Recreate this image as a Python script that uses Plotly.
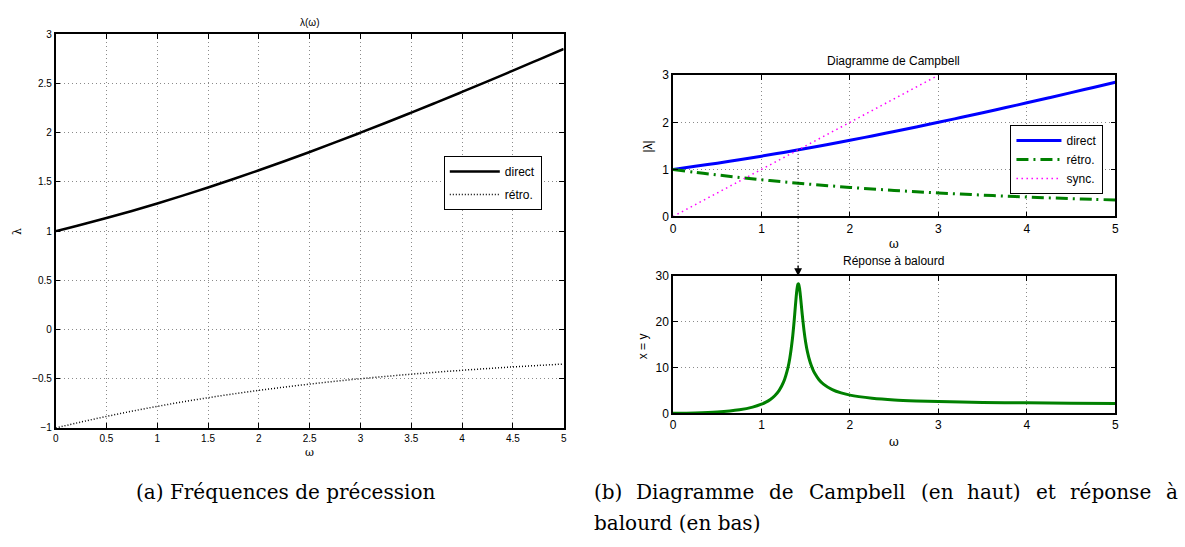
import plotly.graph_objects as go

# ---------------- data ----------------
omega = [0, 0.25, 0.5, 0.75, 1.0, 1.25, 1.5, 1.75, 2.0, 2.25, 2.5, 2.75,
         3.0, 3.25, 3.5, 3.75, 4.0, 4.25, 4.5, 4.75, 5.0]
direct = [1.000, 1.0645, 1.1328, 1.2049, 1.2808, 1.3602, 1.4430, 1.5290,
          1.6180, 1.7099, 1.8042, 1.9010, 2.0000, 2.1010, 2.2038, 2.3082,
          2.4142, 2.5216, 2.6302, 2.7400, 2.8508]
retro = [-1.000, -0.9395, -0.8828, -0.8299, -0.7808, -0.7352, -0.6930,
         -0.6540, -0.6180, -0.5849, -0.5543, -0.5260, -0.5000, -0.4760,
         -0.4538, -0.4332, -0.4142, -0.3966, -0.3802, -0.3650, -0.3508]
sync_omega = [0, 3]
sync_values = [0, 3]

resp_omega = [0, 0.1, 0.25, 0.5, 0.75, 0.9, 1.0, 1.05, 1.1, 1.15, 1.2, 1.25,
              1.3, 1.32, 1.35, 1.37, 1.38, 1.39, 1.40, 1.41, 1.414, 1.42, 1.43,
              1.44, 1.45, 1.46, 1.48, 1.5, 1.52, 1.55, 1.58, 1.6, 1.65, 1.7,
              1.8, 1.9, 2.0, 2.1, 2.25, 2.5, 2.75, 3.0, 3.5, 4.0, 4.5, 5.0]
resp_values = [0, 0.0101, 0.0645, 0.2857, 0.7816, 1.3575, 1.990, 2.440, 3.034,
               3.849, 5.029, 6.868, 10.055, 12.039, 16.345, 20.38, 22.69, 24.98,
               26.92, 28.10, 28.27, 28.21, 27.29, 25.64, 23.68, 21.69, 18.17,
               15.43, 13.37, 11.14, 9.584, 8.791, 7.347, 6.379, 5.172, 4.4536,
               3.980, 3.646, 3.297, 2.936, 2.716, 2.569, 2.389, 2.285, 2.2185,
               2.1734]
omega_res = 1.414

left_title = "λ(ω)"
top_title = "Diagramme de Campbell"
bottom_title = "Réponse à balourd"
series_names = ["direct", "rétro.", "sync."]

W, H = 1185, 547


def px_x(p):
    return p / W


def px_y(p):
    return 1 - p / H


left_x = [px_x(53), px_x(564)]
left_y = [px_y(432), px_y(28)]
right_x = [px_x(674), px_x(1119)]
top_y = [px_y(215), px_y(70)]
bot_y = [px_y(417), px_y(276)]

fig = go.Figure()

# left panel
fig.add_trace(go.Scatter(x=omega, y=direct, mode="lines", name=series_names[0],
                         line=dict(color="black", width=2.5, shape="spline"),
                         xaxis="x", yaxis="y", legend="legend", legendgroup="a"))
fig.add_trace(go.Scatter(x=omega, y=retro, mode="lines", name=series_names[1],
                         line=dict(color="black", width=1.5, dash="1px,2px",
                                   shape="spline"),
                         xaxis="x", yaxis="y", legend="legend", legendgroup="b"))

# Campbell
fig.add_trace(go.Scatter(x=omega, y=direct, mode="lines", name=series_names[0],
                         line=dict(color="#0000FF", width=3, shape="spline"),
                         xaxis="x2", yaxis="y2", legend="legend2"))
fig.add_trace(go.Scatter(x=omega, y=[abs(v) for v in retro], mode="lines",
                         name=series_names[1],
                         line=dict(color="#008000", width=3, dash="12px,5px,2px,5px",
                                   shape="spline"),
                         xaxis="x2", yaxis="y2", legend="legend2"))
fig.add_trace(go.Scatter(x=sync_omega, y=sync_values, mode="lines", name=series_names[2],
                         line=dict(color="#FF00FF", width=1.5, dash="1.5px,3.5px"),
                         xaxis="x2", yaxis="y2", legend="legend2"))

# response
fig.add_trace(go.Scatter(x=resp_omega, y=resp_values, mode="lines", showlegend=False,
                         line=dict(color="#008000", width=3, shape="spline",
                                   smoothing=0.6),
                         xaxis="x3", yaxis="y3"))

grid = dict(showgrid=True, gridcolor="#8a8a8a", griddash="1px,3px", gridwidth=1,
            showline=True, linecolor="black", linewidth=1.5, mirror="ticks",
            ticks="inside", ticklen=5, tickcolor="black", zeroline=False)
tickfont_l = dict(family="Liberation Sans", size=10, color="black")
tickfont_r = dict(family="Liberation Sans", size=12, color="black")

fig.update_layout(
    width=W, height=H, paper_bgcolor="white", plot_bgcolor="white",
    margin=dict(l=0, r=0, t=0, b=0),
    xaxis=dict(domain=left_x, range=[0, 5], dtick=0.5, tickfont=tickfont_l,
               anchor="y", **grid),
    yaxis=dict(domain=left_y, range=[-1, 3], dtick=0.5, tickfont=tickfont_l,
               anchor="x", **grid),
    xaxis2=dict(domain=right_x, range=[0, 5], dtick=1, tickfont=tickfont_r,
                anchor="y2", **grid),
    yaxis2=dict(domain=top_y, range=[0, 3], dtick=1, tickfont=tickfont_r,
                anchor="x2", **grid),
    xaxis3=dict(domain=right_x, range=[0, 5], dtick=1, tickfont=tickfont_r,
                anchor="y3", **grid),
    yaxis3=dict(domain=bot_y, range=[0, 30], dtick=10, tickfont=tickfont_r,
                anchor="x3", **grid),
    legend=dict(x=px_x(542), y=px_y(153), xanchor="right", yanchor="top",
                bgcolor="white", bordercolor="black", borderwidth=1,
                tracegroupgap=4, itemwidth=50,
                font=dict(family="Liberation Sans", size=12, color="black")),
    legend2=dict(x=px_x(1107), y=px_y(121), xanchor="right", yanchor="top",
                 bgcolor="white", bordercolor="black", borderwidth=1,
                 itemwidth=45,
                 font=dict(family="Liberation Sans", size=12, color="black")),
)

# dotted marker line from crossing down to the response plot
y_cross = top_y[0] + omega_res / 3 * (top_y[1] - top_y[0])
fig.add_shape(type="line", xref="x2", yref="paper", x0=omega_res, x1=omega_res,
              y0=y_cross, y1=bot_y[1] + 4 / H,
              line=dict(color="black", width=1, dash="1px,3px"))

ann = []
ann.append(dict(x=omega_res, y=30, xref="x3", yref="y3", ax=0, ay=-12,
                showarrow=True, arrowhead=2, arrowsize=1.3, arrowwidth=1.2,
                arrowcolor="black", text=""))


def label(text, x, y, size, family="Liberation Sans", angle=0, xanchor="center"):
    ann.append(dict(text=text, x=px_x(x), y=px_y(y), xref="paper", yref="paper",
                    showarrow=False, textangle=angle, xanchor=xanchor,
                    yanchor="middle",
                    font=dict(family=family, size=size, color="black")))


label(left_title, 308, 16, 10)
label("ω", 308, 457, 11, family="DejaVu Serif")
label("λ", 14, 230, 11, family="DejaVu Serif", angle=-90)
label(top_title, 896, 55, 12)
label("ω", 896, 243, 12, family="DejaVu Serif")
label("|λ|", 649, 143, 12, angle=-90)
label(bottom_title, 896, 261, 12)
label("ω", 896, 446, 12, family="DejaVu Serif")
label("x = y", 644, 348, 12, angle=-90)

cap_font = "DejaVu Serif"
label("(a) Fréquences de précession", 284, 498, 20, family=cap_font)
words_b = ["(b)", "Diagramme", "de", "Campbell", "(en", "haut)", "et", "réponse"]
words_x = [592, 635, 769, 809, 921, 968, 1037, 1071]
for w, xx in zip(words_b, words_x):
    label(w, xx, 498, 20, family=cap_font, xanchor="left")
label("à", 1184, 498, 20, family=cap_font, xanchor="right")
label("balourd (en bas)", 592, 530, 20, family=cap_font, xanchor="left")

fig.update_layout(annotations=ann)
fig.write_html("out.html", config={"displayModeBar": False},
               post_script="document.body.style.margin='0px';")
